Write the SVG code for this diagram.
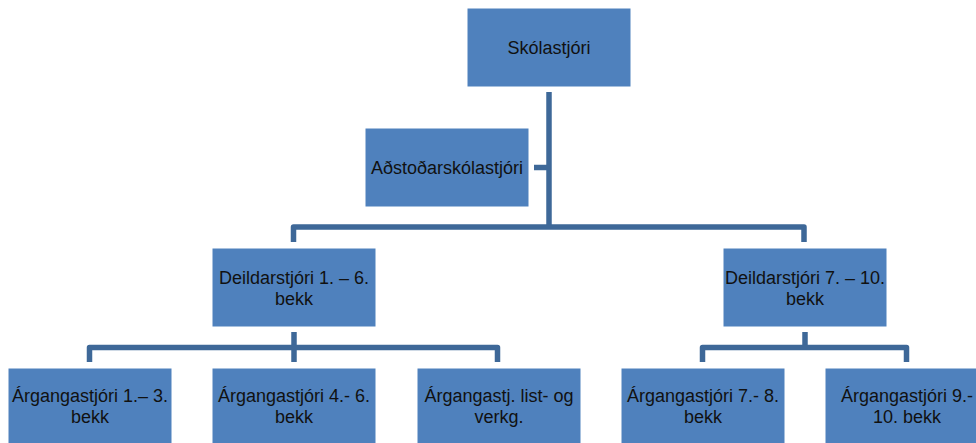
<svg xmlns="http://www.w3.org/2000/svg" width="976" height="443" viewBox="0 0 976 443">
<style>
.box{fill:#4F81BD;stroke:#ffffff;stroke-width:1}
.t{font-family:"Liberation Sans",Arial,sans-serif;font-size:18px;fill:#111111;text-anchor:middle}
.c{fill:none;stroke:#3E6898;stroke-width:5.5;stroke-linejoin:round;stroke-linecap:butt}
</style>
<rect width="976" height="443" fill="#ffffff"/>
<g id="connectors">
<path class="c" d="M549,92 V229"/>
<path class="c" d="M534,167.5 H549"/>
<path class="c" d="M293.5,242 V227 H804 V242"/>
<path class="c" d="M294,332 V362"/>
<path class="c" d="M89.5,362 V347.5 H497.5 V362"/>
<path class="c" d="M805,332 V348"/>
<path class="c" d="M702.5,362 V347.5 H906.5 V362"/>
</g>
<g id="n-skolastjori">
<rect class="box" x="467" y="8" width="164" height="79"/>
<text class="t" x="549" y="54">Skólastjóri</text>
</g>
<g id="n-adstodar">
<rect class="box" x="365" y="128" width="164" height="79"/>
<text class="t" x="447" y="174">Aðstoðarskólastjóri</text>
</g>
<g id="n-deild16">
<rect class="box" x="212" y="248" width="164" height="79"/>
<text class="t" x="294" y="284">Deildarstjóri 1. – 6.</text>
<text class="t" x="294" y="305">bekk</text>
</g>
<g id="n-deild710">
<rect class="box" x="723" y="248" width="164" height="79"/>
<text class="t" x="805" y="284">Deildarstjóri 7. – 10.</text>
<text class="t" x="805" y="305">bekk</text>
</g>
<g id="n-arg13">
<rect class="box" x="8" y="368" width="164" height="79"/>
<text class="t" x="90" y="402">Árgangastjóri 1.– 3.</text>
<text class="t" x="90" y="423">bekk</text>
</g>
<g id="n-arg46">
<rect class="box" x="212" y="368" width="164" height="79"/>
<text class="t" x="294" y="402">Árgangastjóri 4.- 6.</text>
<text class="t" x="294" y="423">bekk</text>
</g>
<g id="n-arglist">
<rect class="box" x="417" y="368" width="164" height="79"/>
<text class="t" x="499" y="402">Árgangastj. list- og</text>
<text class="t" x="499" y="423">verkg.</text>
</g>
<g id="n-arg78">
<rect class="box" x="621" y="368" width="164" height="79"/>
<text class="t" x="703" y="402">Árgangastjóri 7.- 8.</text>
<text class="t" x="703" y="423">bekk</text>
</g>
<g id="n-arg910">
<rect class="box" x="825" y="368" width="164" height="79"/>
<text class="t" x="907" y="402">Árgangastjóri 9.-</text>
<text class="t" x="907" y="423">10. bekk</text>
</g>
</svg>
